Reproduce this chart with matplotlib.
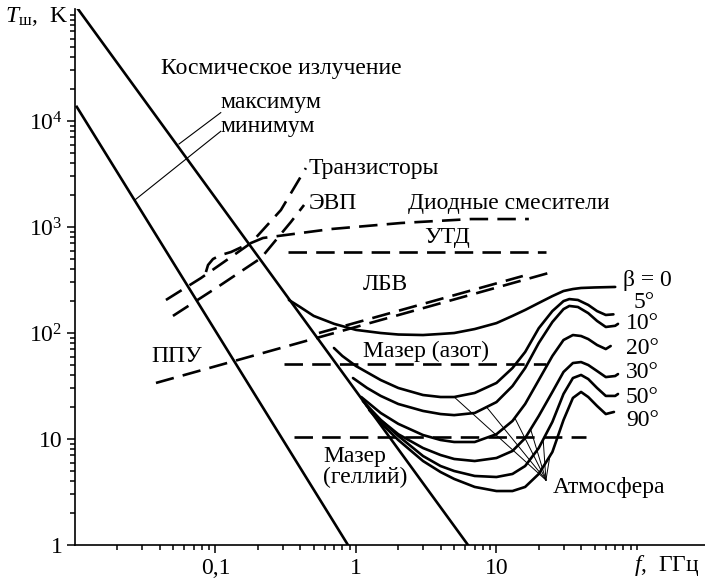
import numpy as np
import matplotlib
matplotlib.use('Agg')
import matplotlib.pyplot as plt
from matplotlib.ticker import FixedLocator, FixedFormatter, NullFormatter

plt.rcParams['font.family'] = 'Liberation Serif'
plt.rcParams['mathtext.fontset'] = 'custom'
plt.rcParams['mathtext.rm'] = 'Liberation Serif'
plt.rcParams['mathtext.it'] = 'Liberation Serif:italic'

# cosmic noise, max / min (GHz, K)
cosmic_max_f = [0.0105, 6.27]
cosmic_max_T = [1.14e5, 1.0]
cosmic_min_f = [0.0103, 0.877]
cosmic_min_T = [1.36e4, 1.0]

# dashed device curves
trans_f = [0.0444, 0.0788, 0.179, 0.292, 0.44]
trans_T = [205, 330, 706, 1445, 3600]
evp_f = [0.0498, 0.109, 0.211, 0.344, 0.427]
evp_T = [145, 284, 510, 1115, 1614]
diod_f = [0.0855, 0.0885, 0.096, 0.109, 0.129, 0.165, 0.218, 0.664, 2.09, 6.59, 17.0]
diod_T = [376, 438, 499, 544, 581, 676, 788, 957, 1091, 1189, 1189]
utd_f = [0.328, 22.5]
utd_T = [575, 575]
lbv_f = [0.545, 15.4]
lbv_T = [100, 345]
ppu_f = [0.0377, 26.5]
ppu_T = [33.8, 385]
maser_n_f = [0.307, 22.5]
maser_n_T = [51, 51]
maser_he_f = [0.362, 43.4]
maser_he_T = [10.5, 10.5]

# atmosphere, by elevation angle
beta_labels = ['β = 0', '5°', '10°', '20°', '30°', '50°', '90°']
atm0_f = [0.333, 0.4, 0.5, 0.7, 1, 1.5, 2, 3, 4, 5, 7, 10, 13, 16, 20, 25, 30, 35, 40, 50, 70]
atm0_T = [205, 176, 145, 122, 107, 100, 96.8, 95.7, 98.0, 100, 109, 124, 145, 165, 192,
          223, 249, 260, 266, 269, 272]
atm5_f = [0.697, 0.8, 1, 1.5, 2, 3, 4, 5, 7, 10, 13, 16, 20, 25, 30, 33, 38, 45, 52, 60, 68]
atm5_T = [72.2, 60.7, 48.8, 36.0, 30.3, 26.0, 24.9, 24.9, 27.2, 33.8, 46.7, 66.2, 111,
          161, 200, 209, 205, 184, 161, 148, 150]
atm10_f = [0.952, 1.2, 1.5, 2, 3, 4, 5, 7, 10, 13, 16, 20, 25, 30, 33, 38, 45, 52, 60, 70, 73.3]
atm10_T = [37.6, 30.3, 25.5, 21.4, 18.4, 17.2, 16.8, 17.6, 22.3, 31.6, 46.7, 80.5, 127,
           168, 180, 176, 154, 130, 114, 117, 122]
atm20_f = [1.09, 1.5, 2, 3, 4, 5, 7, 10, 13, 16, 20, 25, 30, 35, 40, 45, 52, 60, 65]
atm20_T = [24.9, 17.6, 13.9, 10.9, 9.79, 9.37, 9.37, 11.1, 14.8, 21.4, 36.0, 60.7, 85.9,
           95.7, 93.7, 87.7, 77.1, 70.6, 75.4]
atm30_f = [1.12, 1.5, 2, 3, 4, 5, 7, 10, 13, 16, 20, 25, 30, 35, 40, 45, 52, 60, 70, 73.3]
atm30_T = [22.8, 15.1, 11.1, 8.22, 7.06, 6.48, 6.20, 6.62, 7.71, 10.2, 16.5, 27.8, 42.9,
           52.1, 53.2, 49.9, 43.8, 38.4, 39.3, 41.0]
atm50_f = [1.18, 1.5, 2, 3, 4, 5, 7, 10, 13, 16, 20, 25, 30, 35, 40, 45, 52, 60, 70, 73.3]
atm50_T = [20.9, 15.1, 10.7, 6.91, 5.56, 4.99, 4.48, 4.38, 4.68, 5.56, 8.22, 14.5, 26.6,
           37.6, 40.2, 36.8, 30.3, 25.5, 25.5, 26.6]
atm90_f = [1.24, 1.5, 2, 3, 4, 5, 7, 10, 13, 16, 20, 25, 30, 35, 40, 45, 52, 60, 68.6]
atm90_T = [18.8, 14.2, 9.79, 6.20, 4.88, 4.20, 3.53, 3.23, 3.23, 3.53, 4.68, 7.54, 15.1,
           24.4, 27.8, 24.9, 20.5, 17.2, 18.0]
label_f = [79.5, 95.2, 83.5, 83.5, 83.5, 83.5, 83.5]
label_T = [316, 196, 124, 72.2, 42.0, 24.9, 14.8]

# "Атмосфера" leader lines: common point and where they touch the curves
atm_hub = (22.5, 4.10)
leader_f = [5.0, 8.5, 13.5, 17.5, 21.5, 24.0]

fig = plt.figure(figsize=(7.05, 5.84), dpi=100)
ax = fig.add_axes([75/705, 39/584, 630/705, 536/584])
ax.set_xscale('log')
ax.set_yscale('log')
ax.set_xlim(0.01, 305)
ax.set_ylim(1, 1.14e5)

k = 'black'
thick = 1.9
dash = (0, (7, 3.5))

ax.plot(cosmic_max_f, cosmic_max_T, color=k, lw=thick)
ax.plot(cosmic_min_f, cosmic_min_T, color=k, lw=thick)
ax.plot([0.109, 0.055], [1.2e4, 6.07e3], color=k, lw=0.8)
ax.plot([0.109, 0.0267], [8.0e3, 1.8e3], color=k, lw=0.8)

for fx, ty in [(trans_f, trans_T), (evp_f, evp_T), (diod_f, diod_T),
               (utd_f, utd_T), (lbv_f, lbv_T), (ppu_f, ppu_T),
               (maser_n_f, maser_n_T), (maser_he_f, maser_he_T)]:
    ax.plot(fx, ty, color=k, lw=thick, linestyle=dash, dash_capstyle='butt')

curves = [(atm0_f, atm0_T), (atm5_f, atm5_T), (atm10_f, atm10_T), (atm20_f, atm20_T),
          (atm30_f, atm30_T), (atm50_f, atm50_T), (atm90_f, atm90_T)]
for (fx, ty) in curves:
    ax.plot(fx, ty, color=k, lw=thick, solid_joinstyle='round', solid_capstyle='round')

for i, lf in enumerate(leader_f):
    fx, ty = curves[i + 1]
    t = 10 ** np.interp(np.log10(lf), np.log10(fx), np.log10(ty))
    ax.plot([atm_hub[0], lf], [atm_hub[1], t], color=k, lw=0.7)

fs = 17
for lab, x, y in zip(beta_labels, label_f, label_T):
    ax.text(x, y, lab, fontsize=fs, va='center', ha='left')

ax.text(0.0409, 3.16e4, 'Космическое излучение', fontsize=fs, va='center')
ax.text(0.109, 1.48e4, 'максимум', fontsize=fs, va='center')
ax.text(0.109, 8.97e3, 'минимум', fontsize=fs, va='center')
ax.text(0.463, 3600, 'Транзисторы', fontsize=fs, va='center')
ax.text(0.463, 1684, 'ЭВП', fontsize=fs, va='center')
ax.text(2.34, 1684, 'Диодные смесители', fontsize=fs, va='center')
ax.text(3.05, 788, 'УТД', fontsize=fs, va='center')
ax.text(1.12, 284, 'ЛБВ', fontsize=fs, va='center')
ax.text(0.0347, 59.4, 'ППУ', fontsize=fs, va='center')
ax.text(1.12, 67.6, 'Мазер (азот)', fontsize=fs, va='center')
ax.text(0.582, 5.44, 'Мазер\n(геллий)', fontsize=fs, va='center', linespacing=1.05)
ax.text(25.2, 3.45, 'Атмосфера', fontsize=fs, va='center')

for s in ['top', 'right']:
    ax.spines[s].set_visible(False)
for s in ['left', 'bottom']:
    ax.spines[s].set_linewidth(1.2)

xmaj = [0.1, 1, 10]
xmin = [m * 10.0 ** e for e in range(-2, 2) for m in range(2, 10)] + [100]
ax.xaxis.set_major_locator(FixedLocator(xmaj))
ax.xaxis.set_major_formatter(FixedFormatter(['0,1', '1', '10']))
ax.xaxis.set_minor_locator(FixedLocator(xmin))
ax.xaxis.set_minor_formatter(NullFormatter())

ymaj = [1, 10, 100, 1e3, 1e4]
ymin = [m * 10.0 ** e for e in range(0, 5) for m in range(2, 10)] + [1e5]
ax.yaxis.set_major_locator(FixedLocator(ymaj))
ax.yaxis.set_major_formatter(FixedFormatter(['1', '10', r'$10^2$', r'$10^3$', r'$10^4$']))
ax.yaxis.set_minor_locator(FixedLocator(ymin))
ax.yaxis.set_minor_formatter(NullFormatter())

ax.tick_params(which='both', direction='out', width=1.1, labelsize=fs, colors=k)
ax.tick_params(which='major', length=6, pad=3)
ax.tick_params(which='minor', length=3.5)

fig.text(5/705, 1 - 17/584, r'$T_{\mathrm{ш}}$,  K', fontsize=fs, va='center', ha='left')
fig.text(700/705, 1 - 565/584, r'$f$,  ГГц', fontsize=fs, va='center', ha='right')

fig.savefig('out.png', dpi=100)
